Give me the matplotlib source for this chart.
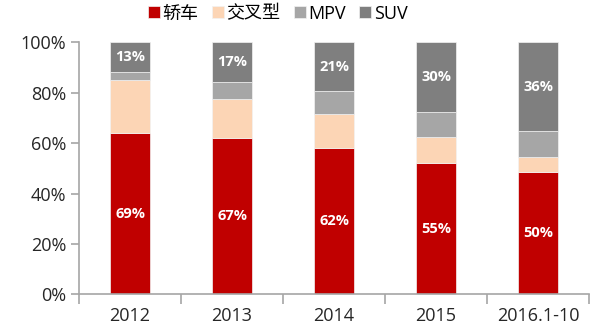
import matplotlib
matplotlib.use("Agg")
import matplotlib.pyplot as plt
import numpy as np

years = ["2012", "2013", "2014", "2015", "2016.1-10"]
sedan = [63.9, 62.1, 57.9, 52.0, 48.7]
crossover = [21.1, 15.4, 13.5, 10.3, 5.9]
mpv = [3.1, 6.9, 9.4, 9.9, 10.3]
suv = [11.9, 15.6, 19.2, 27.8, 35.1]
sedan_labels = ["69%", "67%", "62%", "55%", "50%"]
suv_labels = ["13%", "17%", "21%", "30%", "36%"]
series_names = ["轿车", "交叉型", "MPV", "SUV"]

plt.rcParams['font.family'] = ['Open Sans', 'Noto Sans CJK SC', 'DejaVu Sans']

colors = ["#C00000", "#FCD5B5", "#A6A6A6", "#7F7F7F"]

fig = plt.figure(figsize=(6, 3.31), dpi=100)
ax = fig.add_axes([0.1317, 0.111, 0.850, 0.761])

x = np.arange(len(years))
bottom = np.zeros(len(years))
for vals, c, name in zip([sedan, crossover, mpv, suv], colors, series_names):
    ax.bar(x, vals, 0.39, bottom=bottom, color=c, label=name,
           edgecolor="#f2f2f2", linewidth=0.5)
    bottom += np.array(vals)

# labels on sedan and SUV segments
for i in range(len(years)):
    ax.text(x[i], sedan[i] / 2, sedan_labels[i], ha="center", va="center",
            color="white", fontsize=10.5, fontweight="bold")
    ax.text(x[i], 100 - suv[i] / 2, suv_labels[i], ha="center", va="center",
            color="white", fontsize=10.5, fontweight="bold")

ax.set_xlim(-0.5, 4.5)
ax.set_ylim(0, 100)
ax.set_yticks(np.arange(0, 101, 20))
ax.set_yticklabels(["{}%".format(v) for v in range(0, 101, 20)], fontsize=13, color="#262626")
ax.set_xticks(np.arange(-0.5, 5, 1))
ax.set_xticklabels([])
ax.set_xticks(x, minor=True)
ax.set_xticklabels(years, minor=True, fontsize=13, color="#262626")
ax.tick_params(axis="x", which="major", length=7, width=1.2, color="#a6a6a6", direction="out")
ax.tick_params(axis="x", which="minor", length=0, pad=9)
ax.tick_params(axis="y", length=6, width=1.2, color="#a6a6a6", direction="out", pad=3)

for s in ["top", "right"]:
    ax.spines[s].set_visible(False)
for s in ["left", "bottom"]:
    ax.spines[s].set_color("#a6a6a6")
    ax.spines[s].set_linewidth(1.2)

fig.legend(loc="upper center", bbox_to_anchor=(0.463, 1.035), ncol=4, frameon=False,
           fontsize=13, handlelength=0.65, handleheight=0.65, handletextpad=0.15,
           columnspacing=0.75)

fig.savefig("out.png", dpi=100)
